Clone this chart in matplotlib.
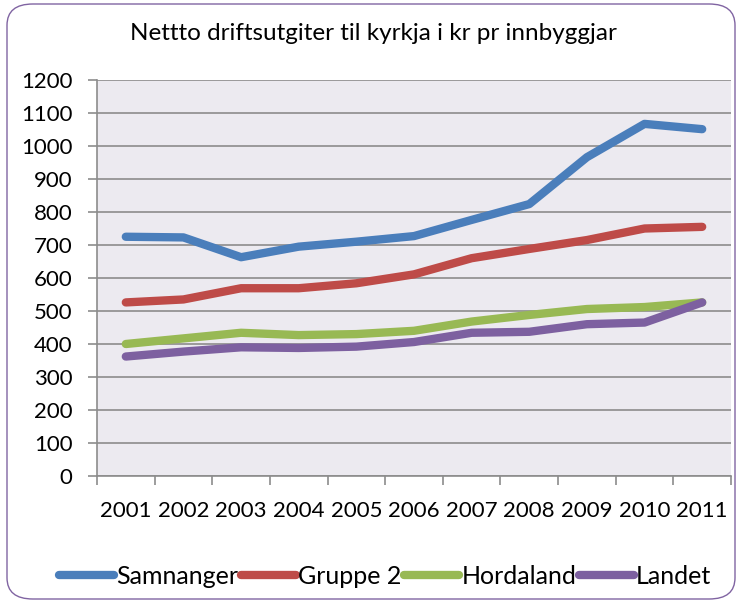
import numpy as np
import matplotlib
matplotlib.use("Agg")
import matplotlib.pyplot as plt
from matplotlib.patches import FancyBboxPatch

plt.rcParams["font.family"] = ["Lato", "DejaVu Sans"]

years = ["2001", "2002", "2003", "2004", "2005", "2006", "2007", "2008", "2009", "2010", "2011"]
samnanger = [725, 723, 663, 695, 710, 727, 776, 824, 966, 1067, 1051]
gruppe2 = [526, 535, 569, 569, 584, 611, 660, 688, 715, 750, 755]
hordaland = [400, 417, 434, 427, 430, 440, 468, 488, 506, 512, 526]
landet = [362, 377, 390, 388, 392, 406, 434, 437, 460, 465, 526]

series = [
    ("Samnanger", samnanger, "#4A7EBB"),
    ("Gruppe 2", gruppe2, "#BE4B48"),
    ("Hordaland", hordaland, "#98B954"),
    ("Landet", landet, "#7D60A0"),
]

fig = plt.figure(figsize=(7.39, 6.07), dpi=100)
ax = fig.add_axes([97 / 739, 1 - 476 / 607, (731 - 97) / 739, (476 - 80) / 607])

# rounded outer frame
frame = FancyBboxPatch((7 / 739, 8 / 607), 728 / 739, 595 / 607,
                       boxstyle="round,pad=0,rounding_size=0.035",
                       transform=fig.transFigure, fill=False,
                       edgecolor="#8064A2", linewidth=1.0)
fig.patches.append(frame)

ax.set_facecolor("#ECEAF0")
x = np.arange(len(years))
for name, vals, col in series:
    ax.plot(x, vals, color=col, lw=6, solid_capstyle="round",
            solid_joinstyle="round", label=name)

ax.set_ylim(0, 1200)
ax.set_yticks(np.arange(0, 1201, 100))
ax.set_xlim(-0.5, len(years) - 0.5)
ax.set_xticks(np.arange(-0.5, len(years), 1.0))
ax.set_xticklabels([])
ax.set_xticks(x, minor=True)
ax.set_xticklabels(years, minor=True)

ax.grid(axis="y", color="#8C8C8C", lw=1.2)
ax.set_axisbelow(True)
for s in ["top", "right"]:
    ax.spines[s].set_visible(False)
for s in ["left", "bottom"]:
    ax.spines[s].set_color("#8C8C8C")
    ax.spines[s].set_linewidth(1.2)

ax.tick_params(axis="y", which="major", length=6.5, width=1.2, color="#8C8C8C",
               labelsize=16, pad=11)
ax.tick_params(axis="x", which="major", length=6.5, width=1.2, color="#8C8C8C")
ax.tick_params(axis="x", which="minor", length=0, labelsize=16, pad=18)

fig.text(373 / 739, 1 - 33 / 607, "Nettto driftsutgiter til kyrkja i kr pr innbyggjar",
         ha="center", va="center", fontsize=17.5)

fig.legend(loc="center", bbox_to_anchor=(385 / 739, 1 - 576 / 607), ncol=4,
           frameon=False, fontsize=18, handlelength=2.2, handletextpad=0.1,
           columnspacing=0.1, borderaxespad=0)

fig.savefig("out.png", dpi=100)
